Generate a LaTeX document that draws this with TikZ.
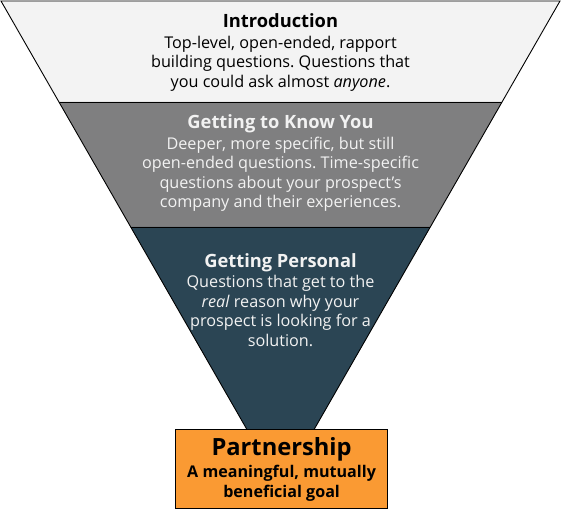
\documentclass[tikz,border=0pt]{standalone}
\usepackage{fontspec}
\setmainfont{Open Sans}
\frenchspacing
\definecolor{bandA}{HTML}{F3F3F3}
\definecolor{bandB}{HTML}{7F7F80}
\definecolor{bandC}{HTML}{2B4554}
\definecolor{goal}{HTML}{FA9A33}
\definecolor{lighttext}{HTML}{F2F2F2}
\begin{document}
\begin{tikzpicture}[x=1pt,y=-1pt,
  band/.style={draw=black,line width=0.9pt,line join=miter},
  ttl/.style={font=\fontsize{18.3}{20}\selectfont\bfseries,inner sep=0pt,anchor=base},
  body/.style={font=\fontsize{16.2}{19.5}\selectfont,align=center,inner sep=0pt,anchor=north}]
\useasboundingbox (0,0) rectangle (561,510);
\coordinate (tl) at (1,1);
\coordinate (tr) at (560,1);
\coordinate (ml1) at (59,102);
\coordinate (mr1) at (502,102);
\coordinate (ml2) at (130.7,227);
\coordinate (mr2) at (430.3,227);
\coordinate (apex) at (280.5,488);
\fill[bandA] (tl) -- (tr) -- (mr1) -- (ml1) -- cycle;
\fill[bandB] (ml1) -- (mr1) -- (mr2) -- (ml2) -- cycle;
\fill[bandC] (ml2) -- (mr2) -- (apex) -- cycle;
\draw[band] (tl) -- (tr) -- (apex) -- cycle;
\draw[band] (ml1) -- (mr1);
\draw[band] (ml2) -- (mr2);
\node[draw=black,line width=1.2pt,fill=goal,minimum width=212pt,minimum height=79pt,anchor=north west,inner sep=0pt] (box) at (175,429) {};
% texts
\node[ttl] (t1) at (280.5,28) {Introduction};
\node[body] (b1) at (280.5,35.5) {Top-level, open-ended, rapport\\building questions. Questions that\\you could ask almost \textit{anyone}.};
\node[ttl,text=lighttext] (t2) at (280.5,128.5) {Getting to Know You};
\node[body,text=lighttext] (b2) at (280.5,136.5) {Deeper, more specific, but still\\open-ended questions. Time-specific\\questions about your prospect’s\\company and their experiences.};
\node[ttl,text=lighttext] (t3) at (280.5,267) {Getting Personal};
\node[body,text=lighttext] (b3) at (280.5,275) {Questions that get to the\\\textit{real} reason why your\\prospect is looking for a\\solution.};
\node[ttl,font=\fontsize{23.7}{26}\selectfont\bfseries] (t4) at (box.north|-0,455.5) {Partnership};
\node[body,font=\fontsize{16.1}{20}\selectfont\bfseries] (b4) at (box.north|-0,464.5) {A meaningful, mutually\\beneficial goal};
\end{tikzpicture}
\end{document}
